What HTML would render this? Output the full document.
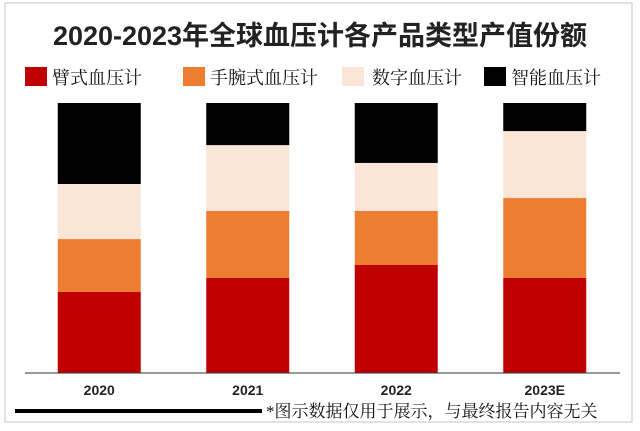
<!DOCTYPE html>
<html><head><meta charset="utf-8">
<style>
body{margin:0;background:#fff;}
#c{position:relative;width:640px;height:431px;overflow:hidden;font-family:"Liberation Sans","Noto Sans CJK SC",sans-serif;}
</style></head>
<body>
<div id="c">
<svg id="s" width="640" height="431" xmlns="http://www.w3.org/2000/svg">
<rect x="5" y="3" width="627" height="419" fill="#fff" stroke="#d9d9d9" stroke-width="1.5"/>
<text x="320" y="45" text-anchor="middle" font-size="27" font-weight="bold" fill="#222" font-family="Liberation Sans, Noto Sans CJK SC, sans-serif">2020-2023年全球血压计各产品类型产值份额</text>
<g id="legend"></g>
<g id="bars"></g>
<line x1="25" y1="373" x2="620" y2="373" stroke="#333" stroke-width="1"/>
<g id="xt"></g>
<rect x="15" y="409" width="247" height="4" fill="#000"/>
<text x="266" y="417" font-size="17" fill="#111" font-family="Liberation Serif, Noto Serif CJK SC, serif">*图示数据仅用于展示，与最终报告内容无关</text>
</svg>
</div>
<script>
const categories=["2020","2021","2022","2023E"];
const seriesNames=["臂式血压计","手腕式血压计","数字血压计","智能血压计"];
const armValues=[30,35.2,40,35.2];
const wristValues=[19.6,24.8,20,29.6];
const digitalValues=[20.4,24.4,17.8,24.8];
const smartValues=[30,15.6,22.2,10.4];
const colors=["#c00000","#ed7d31","#fbe5d6","#000000"];
const NS="http://www.w3.org/2000/svg";
const series=[armValues,wristValues,digitalValues,smartValues];
const y0=373,plotH=270;
function yScale(v){return y0-v/100*plotH;}
const bandStart=25,bandW=148.5,barW=83;
function xCenter(i){return bandStart+bandW*i+bandW/2;}
const bars=document.getElementById('bars');
categories.forEach((c,i)=>{
  let tot=series.reduce((a,s)=>a+s[i],0);
  let cum=0;
  series.forEach((s,k)=>{
    const v=s[i]/tot*100;
    const r=document.createElementNS(NS,'rect');
    const yt=yScale(cum+v),yb=yScale(cum);
    r.setAttribute('x',xCenter(i)-barW/2);
    r.setAttribute('y',yt);
    r.setAttribute('width',barW);
    r.setAttribute('height',yb-yt);
    r.setAttribute('fill',colors[k]);
    
    
    bars.appendChild(r);
    cum+=v;
  });
  const t=document.createElementNS(NS,'text');
  t.setAttribute('x',xCenter(i));
  t.setAttribute('y',395);
  t.setAttribute('text-anchor','middle');
  t.setAttribute('font-size','14');
  t.setAttribute('font-weight','bold');
  t.setAttribute('fill','#222');
  t.textContent=c;
  
  
  document.getElementById('xt').appendChild(t);
});
const legX=[25,183,342,484];
const lg=document.getElementById('legend');
seriesNames.forEach((n,k)=>{
  const g=document.createElementNS(NS,'g');
  
  
  const r=document.createElementNS(NS,'rect');
  r.setAttribute('x',legX[k]);r.setAttribute('y',67);r.setAttribute('width',22);r.setAttribute('height',19);
  r.setAttribute('fill',colors[k]);
  
  
  const t=document.createElementNS(NS,'text');
  t.setAttribute('x',legX[k]+(k==2?30:27));t.setAttribute('y',84);
  t.setAttribute('font-size','18');t.setAttribute('fill','#111');
  t.setAttribute('font-family','Liberation Serif, Noto Serif CJK SC, serif');
  t.textContent=n;
  
  
  g.appendChild(r);g.appendChild(t);lg.appendChild(g);
});
</script>
</body></html>
